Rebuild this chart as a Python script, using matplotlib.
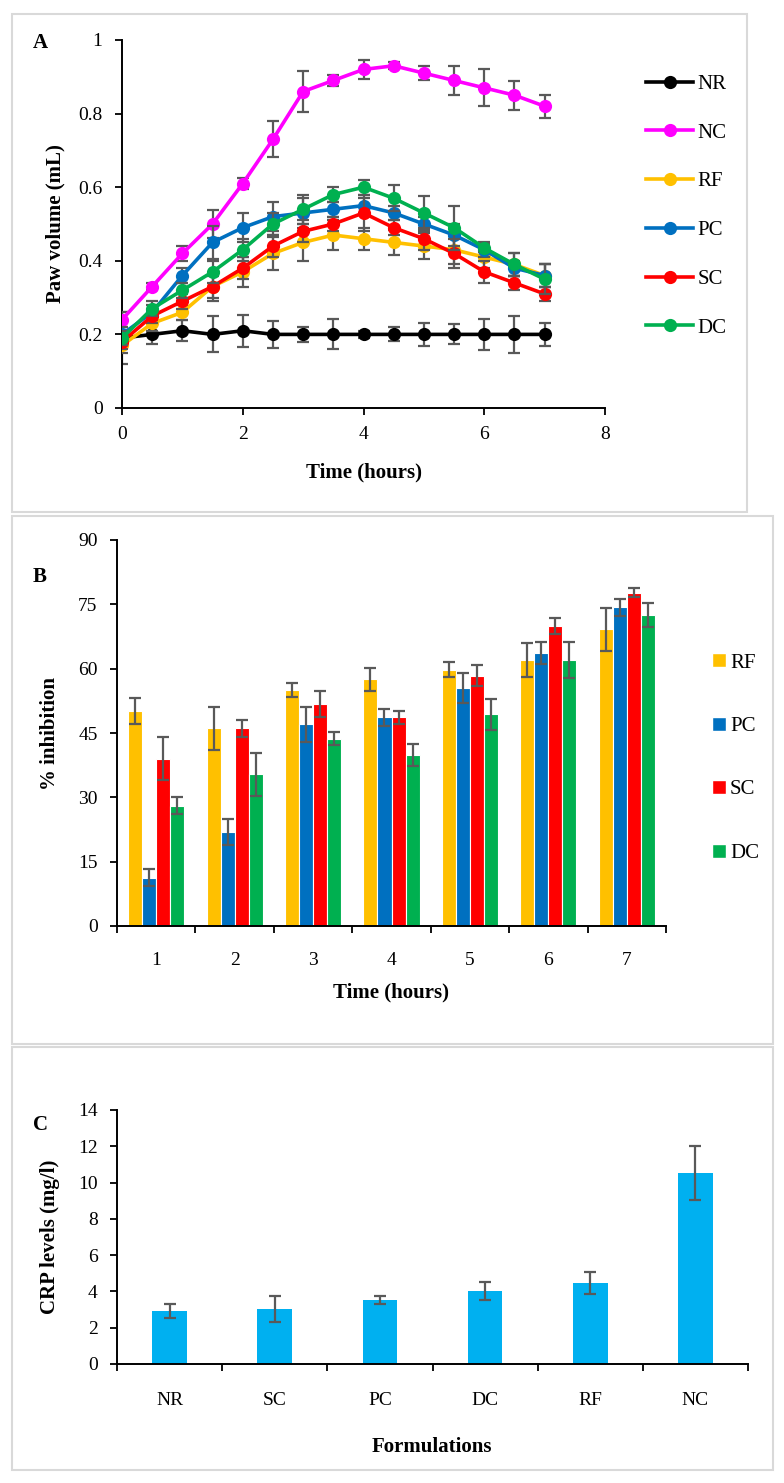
import matplotlib
matplotlib.use("Agg")
import matplotlib.pyplot as plt
from matplotlib.patches import Rectangle, Patch
import numpy as np

plt.rcParams['font.family'] = ['Liberation Serif', 'DejaVu Serif']

# ---------------- Data ----------------
# Panel A: paw volume (mL) vs time (hours)
time_a = [0, 0.5, 1, 1.5, 2, 2.5, 3, 3.5, 4, 4.5, 5, 5.5, 6, 6.5, 7]
groups_a = ['NR', 'NC', 'RF', 'PC', 'SC', 'DC']
nr = [0.19, 0.20, 0.21, 0.20, 0.21, 0.20, 0.20, 0.20, 0.20, 0.20, 0.20, 0.20, 0.20, 0.20, 0.20]
nr_err = [0.07, 0.027, 0.028, 0.049, 0.044, 0.037, 0.021, 0.041, 0.010, 0.019, 0.032, 0.027, 0.042, 0.051, 0.032]
nc = [0.24, 0.33, 0.42, 0.50, 0.61, 0.73, 0.86, 0.89, 0.92, 0.93, 0.91, 0.89, 0.87, 0.85, 0.82]
nc_err = [0.02, 0.01, 0.02, 0.038, 0.016, 0.049, 0.055, 0.016, 0.027, 0.01, 0.02, 0.04, 0.05, 0.039, 0.031]
rf = [0.17, 0.23, 0.26, 0.33, 0.37, 0.42, 0.45, 0.47, 0.46, 0.45, 0.44, 0.43, 0.41, 0.39, 0.36]
rf_err = [0.02, 0.02, 0.02, 0.04, 0.04, 0.045, 0.05, 0.04, 0.03, 0.035, 0.035, 0.04, 0.03, 0.03, 0.03]
pc = [0.20, 0.26, 0.36, 0.45, 0.49, 0.52, 0.53, 0.54, 0.55, 0.53, 0.50, 0.47, 0.43, 0.38, 0.36]
pc_err = [0.02, 0.02, 0.02, 0.045, 0.04, 0.04, 0.04, 0.02, 0.02, 0.02, 0.02, 0.03, 0.02, 0.02, 0.03]
sc = [0.18, 0.25, 0.29, 0.33, 0.38, 0.44, 0.48, 0.50, 0.53, 0.49, 0.46, 0.42, 0.37, 0.34, 0.31]
sc_err = [0.02, 0.02, 0.02, 0.03, 0.03, 0.03, 0.03, 0.02, 0.05, 0.02, 0.03, 0.04, 0.03, 0.02, 0.02]
dc = [0.19, 0.27, 0.32, 0.37, 0.43, 0.50, 0.54, 0.58, 0.60, 0.57, 0.53, 0.49, 0.435, 0.39, 0.35]
dc_err = [0.02, 0.02, 0.02, 0.03, 0.03, 0.03, 0.04, 0.02, 0.02, 0.035, 0.045, 0.06, 0.01, 0.03, 0.04]

# Panel B: % inhibition
time_b = ['1', '2', '3', '4', '5', '6', '7']
groups_b = ['RF', 'PC', 'SC', 'DC']
inh_rf = [50.1, 46.1, 55.0, 57.5, 59.8, 62.1, 69.2]
inh_rf_err = [3.0, 5.0, 1.6, 2.7, 1.8, 4.0, 5.0]
inh_pc = [11.3, 21.9, 47.0, 48.7, 55.4, 63.7, 74.3]
inh_pc_err = [2.0, 3.0, 4.0, 2.0, 3.5, 2.5, 2.0]
inh_sc = [39.0, 46.1, 51.8, 48.7, 58.4, 70.0, 77.7]
inh_sc_err = [5.0, 2.0, 3.0, 1.5, 2.4, 1.9, 1.0]
inh_dc = [28.0, 35.4, 43.7, 39.8, 49.4, 62.1, 72.5]
inh_dc_err = [2.0, 5.0, 1.6, 2.6, 3.6, 4.2, 2.9]

# Panel C: CRP levels
formulations = ['NR', 'SC', 'PC', 'DC', 'RF', 'NC']
crp = [2.93, 3.03, 3.53, 4.04, 4.46, 10.54]
crp_err = [0.39, 0.70, 0.20, 0.50, 0.60, 1.50]

# ---------------- Styles ----------------
colors = {'NR': '#000000', 'NC': '#FF00FF', 'RF': '#FFC000',
          'PC': '#0070C0', 'SC': '#FF0000', 'DC': '#00B050'}
ecol = '#595959'
W, H = 784, 1483
fig = plt.figure(figsize=(W / 100, H / 100), dpi=100)


def rect(l, t, r, b):
    return [l / W, 1 - b / H, (r - l) / W, (b - t) / H]


def fx(x):
    return x / W


def fy(y):
    return 1 - y / H


# panel boxes
for (l, t, r, b) in [(12, 14, 747, 512), (12, 516, 773, 1044), (12, 1047, 773, 1470)]:
    fig.patches.append(Rectangle((fx(l), fy(b)), (r - l) / W, (b - t) / H,
                                 transform=fig.transFigure, fill=False,
                                 edgecolor='#d9d9d9', linewidth=1.5))

TICK_FS = 14
LAB_FS = 15
LEG_FS = 15


def style_axes(ax):
    for s in ['top', 'right']:
        ax.spines[s].set_visible(False)
    for s in ['left', 'bottom']:
        ax.spines[s].set_linewidth(1.4)
        ax.spines[s].set_color('black')
    ax.tick_params(axis='both', which='major', direction='out', length=5,
                   width=1.3, labelsize=TICK_FS, color='black')


# ---------------- Panel A ----------------
axA = fig.add_axes(rect(122, 40, 605, 408))
style_axes(axA)
series_a = {'NR': (nr, nr_err), 'NC': (nc, nc_err), 'RF': (rf, rf_err),
            'PC': (pc, pc_err), 'SC': (sc, sc_err), 'DC': (dc, dc_err)}
handles_a = []
for k, g in enumerate(groups_a):
    y, e = series_a[g]
    axA.errorbar(time_a, y, yerr=e, fmt='none', ecolor=ecol, elinewidth=1.6,
                 capsize=4, capthick=1.6, zorder=2 + 2 * k)
    ln, = axA.plot(time_a, y, '-o', color=colors[g], lw=2.6, ms=9.5,
                   markeredgewidth=0, zorder=3 + 2 * k, label=g)
    handles_a.append(ln)
axA.set_xlim(0, 8)
axA.set_ylim(0, 1)
axA.set_xticks([0, 2, 4, 6, 8])
axA.set_yticks([0, 0.2, 0.4, 0.6, 0.8, 1])
axA.set_yticklabels(['0', '0.2', '0.4', '0.6', '0.8', '1'])
axA.tick_params(axis='x', pad=8)
axA.tick_params(axis='y', pad=9)
fig.text(fx(364), fy(472), 'Time (hours)', ha='center', va='center',
         fontsize=LAB_FS, fontweight='bold')
fig.text(fx(55), fy(224), 'Paw volume (mL)', ha='center', va='center',
         rotation=90, fontsize=LAB_FS, fontweight='bold')
fig.text(fx(40), fy(43), 'A', ha='center', va='center', fontsize=15,
         fontweight='bold')
fig.legend(handles=handles_a, labels=groups_a, loc='upper left',
           bbox_to_anchor=(fx(638), fy(66)), frameon=False,
           fontsize=LEG_FS, handlelength=2.25, handletextpad=0.2,
           labelspacing=1.40, borderaxespad=0)

# ---------------- Panel B ----------------
axB = fig.add_axes(rect(117, 540, 666, 926))
style_axes(axB)
xb = np.arange(1, len(time_b) + 1)
bw = 0.179
series_b = {'RF': (inh_rf, inh_rf_err), 'PC': (inh_pc, inh_pc_err),
            'SC': (inh_sc, inh_sc_err), 'DC': (inh_dc, inh_dc_err)}
handles_b = []
for i, g in enumerate(groups_b):
    v, e = series_b[g]
    pos = xb + (i - 1.5) * bw
    axB.bar(pos, v, width=bw, color=colors[g], edgecolor='white',
            linewidth=0.8, zorder=2)
    axB.errorbar(pos, v, yerr=e, fmt='none', ecolor=ecol, elinewidth=1.6,
                 capsize=4, capthick=1.6, zorder=3)
    handles_b.append(Patch(facecolor=colors[g], edgecolor='white'))
axB.set_xlim(0.5, len(time_b) + 0.5)
axB.set_ylim(0, 90)
axB.set_yticks(np.arange(0, 91, 15))
axB.set_xticks(np.arange(0.5, len(time_b) + 1, 1))
axB.set_xticklabels([])
axB.set_xticks(xb, minor=True)
axB.set_xticklabels(time_b, minor=True)
axB.tick_params(axis='x', which='minor', length=0, pad=19, labelsize=TICK_FS)
axB.tick_params(axis='y', pad=9)
fig.text(fx(391), fy(992), 'Time (hours)', ha='center', va='center',
         fontsize=LAB_FS, fontweight='bold')
fig.text(fx(50), fy(733), '% inhibition', ha='center', va='center',
         rotation=90, fontsize=LAB_FS, fontweight='bold')
fig.text(fx(40), fy(577), 'B', ha='center', va='center', fontsize=15,
         fontweight='bold')
fig.legend(handles=handles_b, labels=groups_b, loc='upper left',
           bbox_to_anchor=(fx(704), fy(645)), frameon=False,
           fontsize=LEG_FS, handlelength=0.65, handleheight=0.65,
           handletextpad=0.2, labelspacing=2.12, borderaxespad=0)

# ---------------- Panel C ----------------
axC = fig.add_axes(rect(117, 1110, 748, 1364))
style_axes(axC)
xc = np.arange(len(formulations))
axC.bar(xc, crp, width=0.33, color='#00B0F0', zorder=2)
axC.errorbar(xc, crp, yerr=crp_err, fmt='none', ecolor=ecol, elinewidth=1.6,
             capsize=4, capthick=1.6, zorder=3)
axC.set_xlim(-0.5, len(formulations) - 0.5)
axC.set_ylim(0, 14)
axC.set_yticks(np.arange(0, 15, 2))
axC.set_xticks(np.arange(-0.5, len(formulations), 1))
axC.set_xticklabels([])
axC.set_xticks(xc, minor=True)
axC.set_xticklabels(formulations, minor=True)
axC.tick_params(axis='x', which='minor', length=0, pad=20, labelsize=TICK_FS)
axC.tick_params(axis='y', pad=9)
fig.text(fx(432), fy(1447), 'Formulations', ha='center', va='center',
         fontsize=LAB_FS, fontweight='bold')
fig.text(fx(50), fy(1237), 'CRP levels (mg/l)', ha='center', va='center',
         rotation=90, fontsize=LAB_FS, fontweight='bold')
fig.text(fx(40), fy(1125), 'C', ha='center', va='center', fontsize=15,
         fontweight='bold')

fig.savefig('out.png', dpi=100)
